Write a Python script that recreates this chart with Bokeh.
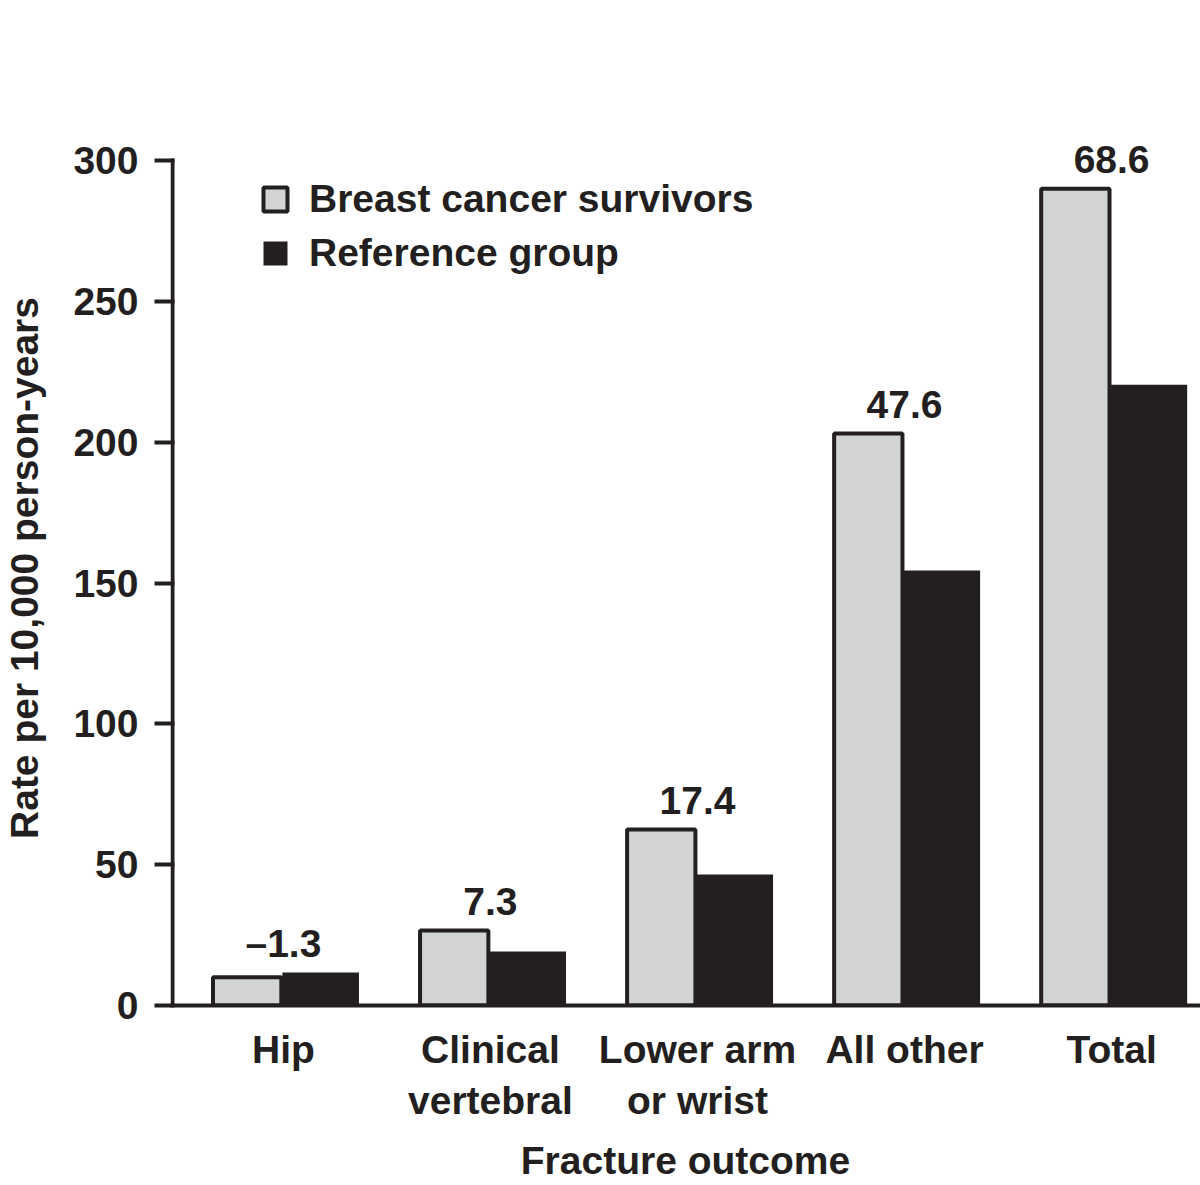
from bokeh.plotting import figure
from bokeh.models import Range1d, FixedTicker, ColumnDataSource, Legend, LegendItem, Label
from bokeh.transform import dodge
from bokeh.embed import file_html
from bokeh.resources import INLINE

categories = ["Hip", "Clinical\nvertebral", "Lower arm\nor wrist", "All other", "Total"]
survivors = [10.0, 26.6, 62.5, 203.1, 290.0]
reference = [11.7, 19.2, 46.5, 154.4, 220.4]
differences = ["\u20131.3", "7.3", "17.4", "47.6", "68.6"]
y_ticks = [0, 50, 100, 150, 200, 250, 300]

FONT = "Liberation Sans"
FS = "39px"
INK = "#231f20"
GRAY = "#d1d3d4"

W, H = 1200, 1185
B_LEFT, B_TOP, B_BOTTOM = 169, 130, 180
AXIS_MAX = y_ticks[-1]
PX_PER_UNIT = 845 / AXIS_MAX          # 0..300 spans 845 px
PX_PER_CAT = 207.25                   # distance between category centres
Y_TOP = AXIS_MAX + (160 - B_TOP) / PX_PER_UNIT   # head-room for the value labels
X_START = -(282 - B_LEFT) / PX_PER_CAT
X_END = X_START + (W - B_LEFT) / PX_PER_CAT
AXIS_X = X_START + 2 / PX_PER_CAT     # y-axis line 2 px inside the frame

idx = list(range(len(categories)))
src = ColumnDataSource(dict(x=idx, surv=survivors, ref=reference))

p = figure(width=W, height=H, x_range=Range1d(X_START, X_END), y_range=Range1d(0, Y_TOP),
           output_backend="svg", toolbar_location=None, min_border=0,
           min_border_left=B_LEFT, min_border_right=0, min_border_top=B_TOP,
           min_border_bottom=B_BOTTOM)
p.outline_line_color = None
p.xgrid.visible = False
p.ygrid.visible = False
p.background_fill_color = "white"

r_ref = p.vbar(x=dodge("x", 0.18, range=p.x_range), top="ref", width=0.37, bottom=0,
               source=src, fill_color=INK, line_color=None)
r_surv = p.vbar(x=dodge("x", -0.175, range=p.x_range), top="surv", width=0.33, bottom=0,
                source=src, fill_color=GRAY, line_color=INK, line_width=4)

# y-axis line, stopping at the last tick
p.segment(x0=[AXIS_X], y0=[y_ticks[0]], x1=[AXIS_X], y1=[AXIS_MAX],
          line_color=INK, line_width=4, line_cap="square")

for i, a, b, t in zip(idx, survivors, reference, differences):
    p.add_layout(Label(x=i, y=max(a, b), y_offset=29, text=t,
                       text_align="center", text_baseline="middle",
                       text_font=FONT, text_font_size=FS, text_font_style="bold",
                       text_color=INK))

# y axis
ya = p.yaxis[0]
ya.ticker = FixedTicker(ticks=y_ticks)
ya.axis_line_color = None
ya.major_tick_line_width = 4
ya.major_tick_line_color = INK
ya.major_tick_out = 16
ya.major_tick_in = 4
ya.minor_tick_line_color = None
ya.major_label_standoff = 16
ya.major_label_text_font = FONT
ya.major_label_text_font_size = FS
ya.major_label_text_font_style = "bold"
ya.major_label_text_color = INK
ya.axis_label = "Rate per 10,000 person-years"
ya.axis_label_standoff = 24
ya.axis_label_text_font = FONT
ya.axis_label_text_font_size = FS
ya.axis_label_text_font_style = "bold"
ya.axis_label_text_color = INK

# x axis
xa = p.xaxis[0]
xa.ticker = FixedTicker(ticks=idx)
xa.major_label_overrides = {i: c for i, c in zip(idx, categories)}
xa.axis_line_width = 4
xa.axis_line_color = INK
xa.major_tick_line_color = None
xa.minor_tick_line_color = None
xa.major_tick_out = 0
xa.major_tick_in = 0
xa.major_label_standoff = 22
xa.major_label_text_font = FONT
xa.major_label_text_font_size = FS
xa.major_label_text_font_style = "bold"
xa.major_label_text_color = INK
xa.axis_label = "Fracture outcome"
xa.axis_label_standoff = 14
xa.axis_label_text_font = FONT
xa.axis_label_text_font_size = FS
xa.axis_label_text_font_style = "bold"
xa.axis_label_text_color = INK

legend = Legend(items=[LegendItem(label="Breast cancer survivors", renderers=[r_surv]),
                       LegendItem(label="Reference group", renderers=[r_ref])],
                location=(90, 730), glyph_width=30, glyph_height=30,
                label_text_font=FONT, label_text_font_size=FS, label_text_font_style="bold",
                label_text_color=INK, label_standoff=19, spacing=10, padding=0, margin=0,
                border_line_color=None, background_fill_alpha=0)
p.add_layout(legend)

open("out.html", "w").write(file_html(p, INLINE))
